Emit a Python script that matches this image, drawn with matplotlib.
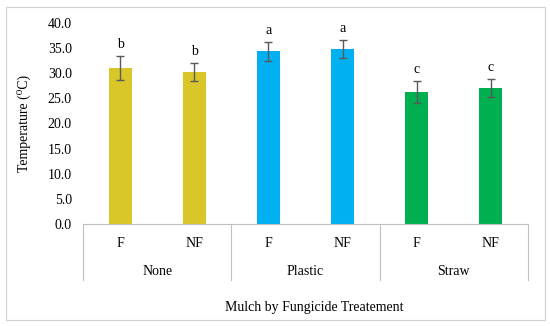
import matplotlib
matplotlib.use('Agg')
import matplotlib.pyplot as plt
import matplotlib.transforms as mtransforms
from matplotlib.patches import Rectangle

plt.rcParams['font.family'] = ['Liberation Serif', 'DejaVu Serif']

# data
mulch = ['None', 'Plastic', 'Straw']
fungicide = ['F', 'NF']
temps = [31.0, 30.2, 34.4, 34.8, 26.3, 27.0]
errs = [2.4, 1.8, 1.9, 1.8, 2.2, 1.8]
letters = ['b', 'b', 'a', 'a', 'c', 'c']
colors = ['#D9C72A', '#D9C72A', '#00B0F0', '#00B0F0', '#00B050', '#00B050']

fs = 10

fig = plt.figure(figsize=(5.5, 3.26), dpi=100)
ax = fig.add_axes([83/550, 1 - 224/326, 445/550, 201/326])

x = list(range(len(temps)))
ax.bar(x, temps, width=0.31, color=colors, yerr=errs, capsize=3,
       error_kw=dict(ecolor='#595959', elinewidth=1, capthick=1))

for xi, t, e, lab in zip(x, temps, errs, letters):
    ax.text(xi, t + e + 1.0, lab, ha='center', va='bottom', fontsize=fs)

ax.set_xlim(-0.5, len(temps) - 0.5)
ax.set_ylim(0, 40)
ax.set_yticks([0, 5, 10, 15, 20, 25, 30, 35, 40])
ax.set_yticklabels(['%.1f' % v for v in ax.get_yticks()], fontsize=fs)
ax.tick_params(axis='y', length=0, pad=8)
ax.set_xticks([])
for s in ['top', 'right', 'left']:
    ax.spines[s].set_visible(False)
ax.spines['bottom'].set_color('#BFBFBF')
ax.spines['bottom'].set_linewidth(0.8)

trans = mtransforms.blended_transform_factory(ax.transData, ax.transAxes)
# sub-category labels
for i, xi in enumerate(x):
    ax.text(xi, -0.095, fungicide[i % 2], transform=trans, ha='center',
            va='center', fontsize=fs)
# group labels and separators
for g, name in enumerate(mulch):
    ax.text(2 * g + 0.5, -0.235, name, transform=trans, ha='center',
            va='center', fontsize=fs)
for b in [-0.5, 1.5, 3.5, 5.5]:
    ax.plot([b, b], [0, -0.28], transform=trans, color='#BFBFBF',
            lw=0.8, clip_on=False)

ax.text(0.52, -0.413, 'Mulch by Fungicide Treatement', transform=ax.transAxes,
        ha='center', va='center', fontsize=fs)
ax.set_ylabel('Temperature (\u2070C)', fontsize=10, labelpad=12)

fig.patches.append(Rectangle((6/550, 6/326), 539/550, 313/326,
                             transform=fig.transFigure, fill=False,
                             edgecolor='#D0D0D0', lw=0.8))

fig.savefig('out.png', dpi=100)
